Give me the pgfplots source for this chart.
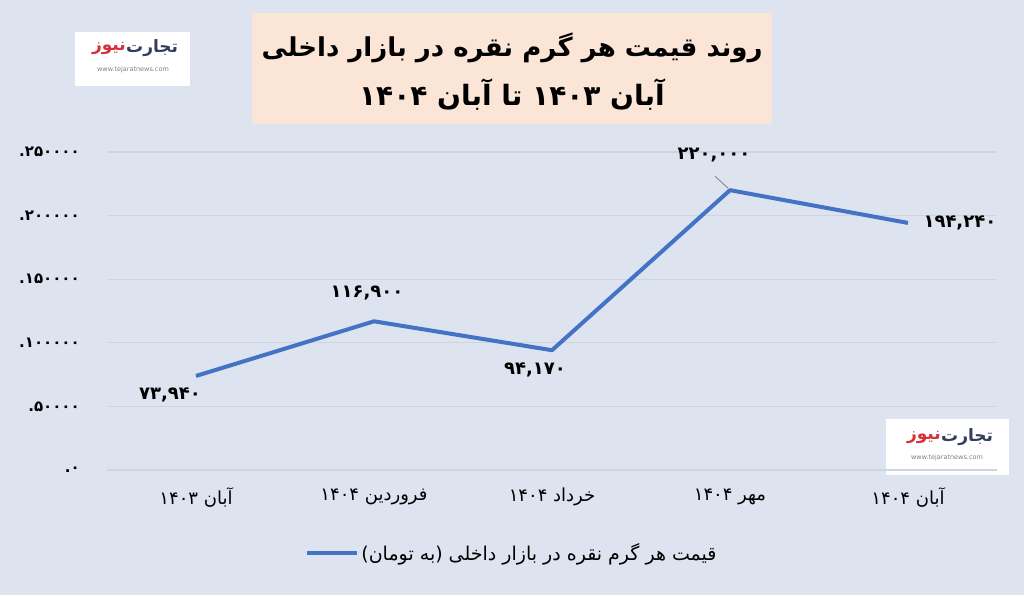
\documentclass[border=0pt]{standalone}
\usepackage{pgfplots}
\pgfplotsset{compat=1.18}
\usepackage{fontspec}
\setmainfont{DejaVu Sans}
\newfontfamily\fa[Script=Arabic]{DejaVu Sans}
\TeXXeTstate=1

\definecolor{bg}{RGB}{221,228,240}
\definecolor{titlebg}{RGB}{251,229,214}
\definecolor{lineblue}{RGB}{68,114,196}
\definecolor{gridc}{RGB}{208,213,221}
\definecolor{logoblue}{RGB}{52,62,92}
\definecolor{logored}{RGB}{214,48,56}

\newcommand{\lbl}{\fa\bfseries\fontsize{18}{20}\selectfont}
\newcommand{\dt}{{\rmfamily .}}

\begin{document}
\begin{tikzpicture}[x=1pt,y=1pt]
\fill[bg] (0,0) rectangle (1024,595);
\useasboundingbox (0,0) rectangle (1024,595);

% title box
\fill[titlebg] (252,471) rectangle (772,582);
\node[font=\fa\bfseries\fontsize{26}{30}\selectfont] at (512,547) {\beginR روند قیمت هر گرم نقره در بازار داخلی\endR};
\node[font=\fa\bfseries\fontsize{28}{30}\selectfont] at (512,500) {\beginR آبان ۱۴۰۳ تا آبان ۱۴۰۴\endR};

% logos
\fill[white] (75,509) rectangle (190,563);
\node[font=\fa\bfseries\fontsize{17}{20}\selectfont, text=logoblue, anchor=west, inner sep=0pt] at (126,547) {تجارت};
\node[font=\fa\bfseries\fontsize{17}{20}\selectfont, text=logored, anchor=east, inner sep=0pt] at (126,547) {نیوز};
\node[font=\fontsize{6.5}{7}\selectfont, text=gray] at (133,525) {www.tejaratnews.com};
\fill[white] (886,120) rectangle (1009,176);
\node[font=\fa\bfseries\fontsize{17}{20}\selectfont, text=logoblue, anchor=west, inner sep=0pt] at (941,158) {تجارت};
\node[font=\fa\bfseries\fontsize{17}{20}\selectfont, text=logored, anchor=east, inner sep=0pt] at (941,158) {نیوز};
\node[font=\fontsize{6.5}{7}\selectfont, text=gray] at (947,137) {www.tejaratnews.com};

\begin{axis}[
    at={(107pt,125pt)}, anchor=south west,
    scale only axis, width=890pt, height=318pt,
    xmin=-0.5, xmax=4.5, ymin=0, ymax=250000,
    axis line style={draw=none},
    tick style={draw=none},
    ymajorgrids, grid style={color=gridc, line width=1.2pt},
    ytick={0,50000,100000,150000,200000,250000},
    yticklabels={\dt۰,\dt۵۰۰۰۰,\dt۱۰۰۰۰۰,\dt۱۵۰۰۰۰,\dt۲۰۰۰۰۰,\dt۲۵۰۰۰۰},
    yticklabel style={font=\fa\bfseries\fontsize{15}{17}\selectfont, anchor=east, inner sep=0pt, xshift=-27pt},
    xtick={0,1,2,3,4},
    xticklabels={{\beginR آبان ۱۴۰۳\endR},{\beginR فروردین ۱۴۰۴\endR},{\beginR خرداد ۱۴۰۴\endR},{\beginR مهر ۱۴۰۴\endR},{\beginR آبان ۱۴۰۴\endR}},
    xticklabel style={font=\fa\fontsize{18}{20}\selectfont, anchor=center, inner sep=0pt, yshift=-27pt},
    scaled y ticks=false,
    clip=false,
    legend style={at={(0.455,-0.26)}, anchor=center, draw=none, fill=none,
      font=\fa\fontsize{19}{21}\selectfont},
    legend cell align=left,
    legend image code/.code={\draw[#1, line width=4pt] (0pt,0pt) -- (50pt,0pt);},
]
\addplot[color=lineblue, line width=4pt, line join=round, mark=none]
  coordinates {(0,73940) (1,116900) (2,94170) (3,220000) (4,194240)};
\addlegendentry{{\rmfamily(}\beginR به تومان\endR{\rmfamily)} \beginR قیمت هر گرم نقره در بازار داخلی\endR}

\node[font=\lbl] at (axis cs:0,73940) [xshift=-26pt, yshift=-19pt] {۷۳,۹۴۰};
\node[font=\lbl] at (axis cs:1,116900) [xshift=-7pt, yshift=28pt] {۱۱۶,۹۰۰};
\node[font=\lbl] at (axis cs:2,94170) [xshift=-17pt, yshift=-20pt] {۹۴,۱۷۰};
\node[font=\lbl] at (axis cs:3,220000) [xshift=-16pt, yshift=35pt] {۲۲۰,۰۰۰};
\draw[gray, line width=0.8pt] (axis cs:3,220000) ++(-15pt,14pt) -- ++(13pt,-12pt);
\node[font=\lbl, anchor=west] at (axis cs:4,194240) [xshift=12pt] {۱۹۴,۲۴۰};
\end{axis}
\end{tikzpicture}
\end{document}
